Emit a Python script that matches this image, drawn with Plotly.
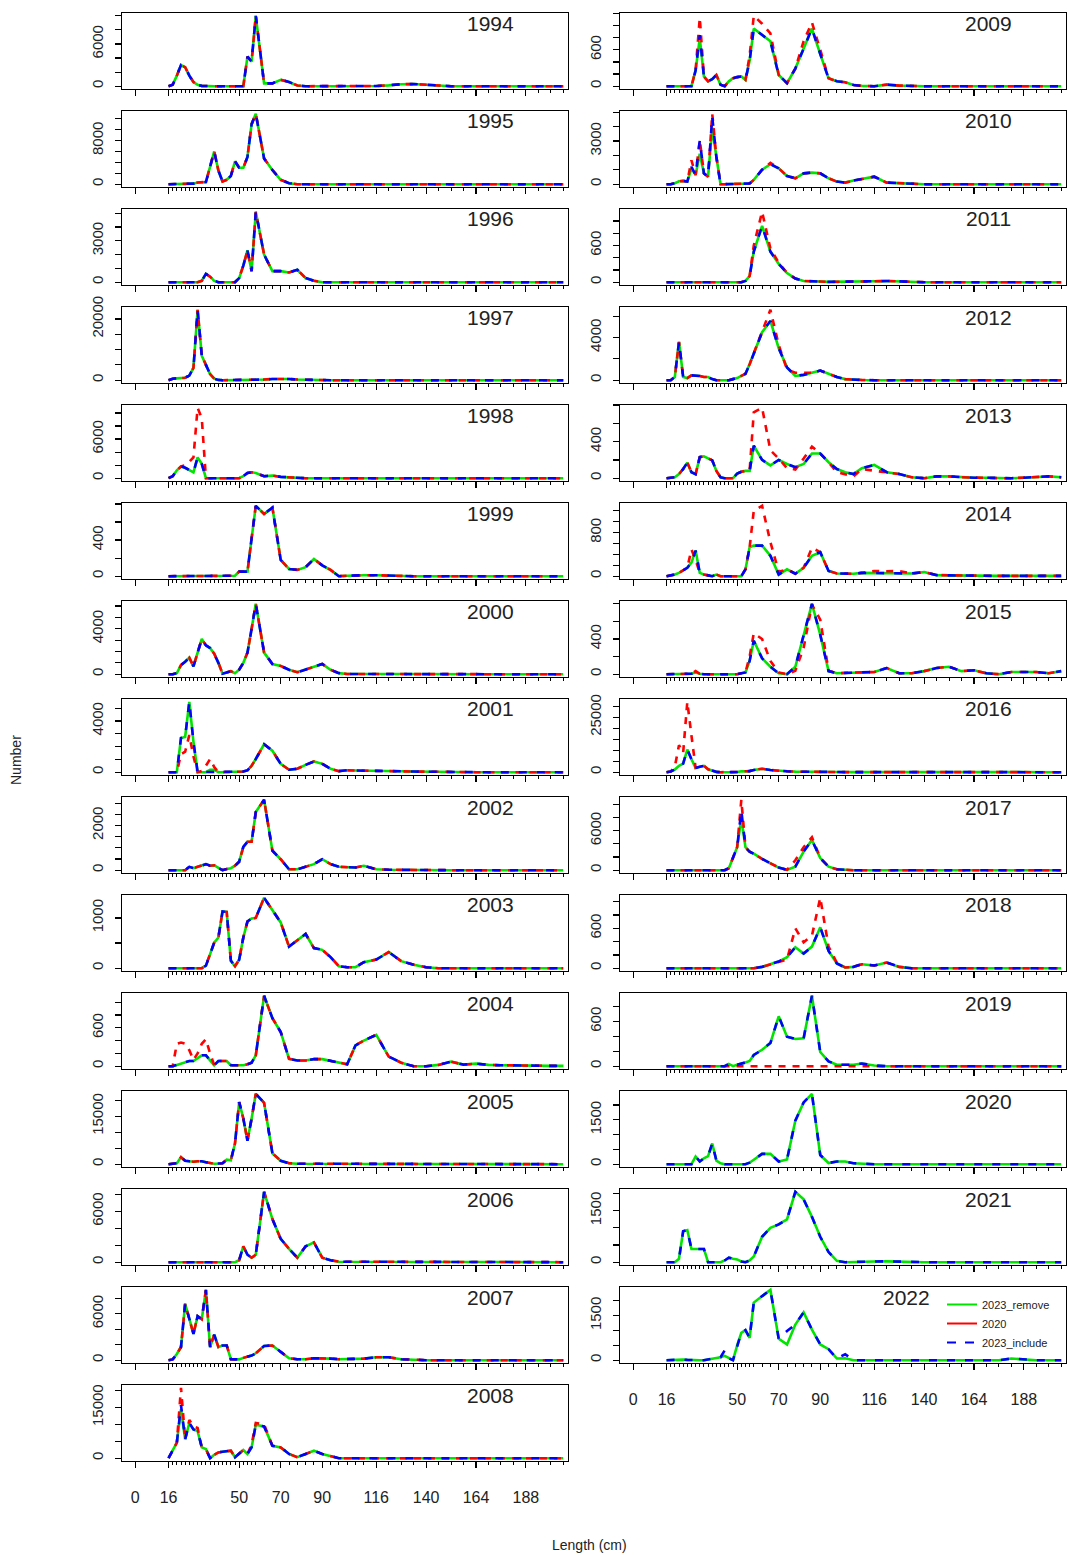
import plotly.graph_objects as go

# ---------------- data ----------------
bins = [16, 18, 20, 22, 24, 26, 28, 30, 32, 34, 36, 38, 40, 42, 44, 46, 48, 50, 52, 54, 56, 58,
        62, 66, 70, 74, 78, 82, 86, 90, 94, 98, 102, 106, 110,
        116, 122, 128, 134, 140, 146, 152, 158, 164, 170, 176, 182, 188, 194, 200, 206]

years = list(range(1994, 2023))

Z16 = [0, 0, 0, 0, 0, 0, 0, 0, 0, 0, 0, 0, 0, 0, 0, 0]

inc_1994 = [0, 200, 1500, 3000, 2700, 1500, 600, 200, 50, 0, 0, 0, 0, 0, 0, 0, 0, 0, 0, 4200, 3500, 10000,
            400, 400, 900, 600, 100, 0, 0, 0, 0, 0, 0, 0, 0,
            30, 120, 280, 300, 200, 40, 0, 0, 0, 0, 0, 0, 0, 0, 0, 0]
inc_1995 = [0, 0, 0, 0, 0, 50, 100, 300, 400, 400, 3200, 6000, 2500, 500, 800, 1500, 4200, 3000, 3000, 5000, 11000, 12900,
            4700, 2600, 800, 180, 0, 0, 0, 0, 0, 0, 0, 0, 0] + Z16
inc_1996 = [0, 0, 0, 0, 0, 0, 0, 0, 100, 600, 400, 100, 0, 0, 0, 0, 0, 300, 1200, 2300, 800, 5100,
            2000, 800, 800, 700, 900, 300, 100, 0, 0, 0, 0, 0, 0] + Z16
inc_1997 = [0, 500, 600, 600, 800, 1500, 4000, 23000, 8000, 5000, 2000, 500, 100, 0, 0, 0, 0, 0, 0, 0, 0, 0,
            200, 400, 500, 400, 200, 100, 0, 0, 0, 0, 0, 0, 0] + Z16
inc_1998 = [0, 300, 1200, 1800, 1600, 1300, 900, 3200, 2200, 0, 0, 0, 0, 0, 0, 0, 0, 0, 300, 800, 900, 800,
            300, 400, 200, 100, 0, 0, 0, 0, 0, 0, 0, 0, 0] + Z16
old_1998 = [0, 300, 1200, 1800, 2000, 2500, 3200, 10800, 9200, 0, 0, 0, 0, 0, 0, 0, 0, 0, 300, 800, 900, 800,
            300, 400, 200, 100, 0, 0, 0, 0, 0, 0, 0, 0, 0] + Z16
inc_1999 = [0, 0, 0, 0, 0, 0, 0, 0, 0, 0, 0, 0, 0, 0, 0, 0, 5, 50, 50, 50, 420, 780,
            690, 760, 180, 80, 70, 100, 190, 120, 70, 0, 5, 10, 10,
            10, 5, 0, 0, 0, 0, 0, 0, 0, 0, 0, 0, 0, 0, 0, 0]
inc_2000 = [0, 0, 100, 800, 1100, 1460, 690, 1800, 3100, 2540, 2300, 1800, 1000, 40, 150, 260, 90, 390, 1000, 1900, 4000, 6200,
            1900, 900, 730, 390, 170, 390, 650, 900, 390, 90, 20, 20, 30,
            30, 20, 10, 0, 0, 0, 0, 0, 0, 0, 0, 0, 0, 0, 0, 0]
inc_2001 = [0, 0, 0, 2670, 2750, 5500, 2370, 0, 0, 0, 50, 50, 0, 0, 0, 0, 0, 0, 50, 150, 500, 1030,
            2180, 1680, 650, 190, 270, 570, 840, 650, 270, 80, 150, 130, 110,
            100, 90, 70, 50, 30, 20, 0, 0, 0, 0, 0, 0, 0, 0, 0, 0]
old_2001 = [0, 0, 0, 1400, 1600, 2900, 1220, 0, 100, 500, 1030, 400, 0, 0, 0, 0, 0, 0, 50, 150, 500, 1030,
            2180, 1680, 650, 190, 270, 570, 840, 650, 270, 80, 150, 130, 110,
            100, 90, 70, 50, 30, 20, 0, 0, 0, 0, 0, 0, 0, 0, 0, 0]
rem_2001 = [0, 0, 0, 2670, 2750, 5500, 2370, 0, 0, 0, 190, 190, 0, 0, 0, 0, 0, 0, 50, 150, 500, 1030,
            2180, 1680, 650, 190, 270, 570, 840, 650, 270, 80, 150, 130, 110,
            100, 90, 70, 50, 30, 20, 0, 0, 0, 0, 0, 0, 0, 0, 0, 0]
inc_2002 = [0, 0, 0, 0, 0, 150, 90, 150, 200, 270, 200, 220, 100, 0, 50, 90, 200, 380, 1040, 1270, 1270, 2600,
            3150, 870, 490, 40, 40, 150, 270, 490, 270, 150, 150, 120, 200,
            40, 20, 10, 0, 0, 0, 0, 0, 0, 0, 0, 0, 0, 0, 0, 0]
inc_2003 = [0, 0, 0, 0, 0, 0, 0, 0, 0, 50, 300, 510, 610, 1130, 1120, 150, 40, 170, 610, 930, 990, 1000,
            1400, 1150, 910, 430, 560, 680, 400, 365, 220, 40, 20, 20, 120,
            170, 320, 140, 70, 20, 0, 0, 0, 0, 0, 0, 0, 0, 0, 0, 0]
inc_2004 = [0, 0, 20, 40, 60, 80, 80, 120, 170, 170, 90, 15, 80, 80, 80, 15, 15, 15, 15, 30, 55, 170,
            1100, 750, 535, 115, 90, 90, 110, 110, 80, 50, 30, 325, 400,
            490, 150, 55, 0, 0, 20, 70, 25, 40, 20, 15, 10, 10, 5, 5, 5]
old_2004 = [0, 0, 350, 370, 350, 250, 100, 200, 350, 420, 200, 15, 80, 80, 80, 15, 15, 15, 15, 30, 55, 170,
            1100, 750, 535, 115, 90, 90, 110, 110, 80, 50, 30, 325, 400,
            490, 150, 55, 0, 0, 20, 70, 25, 40, 20, 15, 10, 10, 5, 5, 5]
inc_2005 = [0, 100, 300, 2170, 1080, 900, 775, 900, 930, 620, 400, 155, 200, 310, 1400, 1240, 6500, 19400, 14300, 7300, 14300, 22000,
            19200, 3400, 1080, 300, 150, 150, 150, 150, 150, 150, 150, 150, 150,
            150, 100, 100, 100, 50, 0, 0, 0, 0, 0, 0, 0, 0, 0, 0, 0]
inc_2006 = [0, 0, 0, 0, 0, 0, 0, 0, 0, 0, 0, 0, 0, 0, 0, 0, 0, 230, 1870, 880, 530, 880,
            8300, 5090, 2750, 1580, 530, 1870, 2340, 530, 230, 60, 60, 80, 80,
            60, 60, 40, 40, 30, 20, 0, 0, 0, 0, 0, 0, 0, 0, 0, 0]
inc_2007 = [0, 100, 800, 1700, 7300, 5500, 3400, 5700, 5300, 9100, 1700, 3300, 1700, 1900, 1900, 130, 100, 100, 300, 440, 600, 890,
            1840, 1900, 1080, 250, 130, 130, 250, 250, 200, 130, 130, 130, 200,
            380, 380, 130, 50, 0, 0, 0, 0, 0, 0, 0, 0, 0, 0, 0, 0]
inc_2008 = [0, 2200, 4600, 15700, 5600, 10400, 8500, 8000, 3200, 2700, 0, 1000, 1700, 1900, 2000, 2200, 290, 1300, 2400, 1250, 3200, 9900,
            9400, 3650, 3200, 1250, 290, 1250, 2200, 1250, 580, 0, 0, 0, 0] + Z16
old_2008 = [0, 2200, 4600, 20800, 5600, 11300, 9400, 8900, 3200, 2700, 0, 1000, 1700, 1900, 2000, 2200, 290, 1300, 2400, 1250, 4000, 10400,
            10000, 3650, 3200, 1250, 290, 1250, 2200, 1250, 580, 0, 0, 0, 0] + Z16
rem_2008 = [0, 2200, 4600, 14500, 5600, 10400, 8500, 8000, 3200, 2700, 0, 1000, 1700, 1900, 2000, 2200, 290, 1300, 2400, 1250, 3200, 9900,
            9400, 3650, 3200, 1250, 290, 1250, 2200, 1250, 580, 0, 0, 0, 0] + Z16
inc_2009 = [0, 0, 0, 0, 0, 0, 0, 260, 840, 160, 80, 115, 185, 25, 0, 80, 130, 150, 160, 105, 420, 950,
            840, 740, 185, 50, 290, 630, 950, 530, 130, 80, 65, 20, 5,
            0, 25, 10, 0, 0, 0, 0, 0, 0, 0, 0, 0, 0, 0, 0, 0]
old_2009 = [0, 0, 0, 0, 0, 0, 0, 260, 1130, 160, 80, 115, 185, 25, 0, 80, 130, 150, 160, 105, 500, 1160,
            1030, 870, 185, 50, 290, 740, 1050, 600, 130, 80, 65, 20, 5,
            0, 25, 10, 0, 0, 0, 0, 0, 0, 0, 0, 0, 0, 0, 0, 0]
rem_2009 = [0, 0, 0, 0, 0, 0, 0, 260, 790, 160, 80, 115, 185, 25, 0, 80, 130, 150, 160, 105, 420, 950,
            840, 740, 185, 50, 290, 630, 950, 530, 130, 80, 65, 20, 5,
            0, 25, 10, 0, 0, 0, 0, 0, 0, 0, 0, 0, 0, 0, 0, 0]
inc_2010 = [0, 0, 70, 200, 230, 180, 1200, 640, 3020, 750, 520, 4700, 1890, 0, 0, 0, 0, 0, 0, 0, 50, 300,
            1000, 1390, 1100, 570, 410, 750, 800, 750, 410, 180, 110, 250, 350,
            520, 110, 70, 20, 0, 0, 0, 0, 0, 0, 0, 0, 0, 0, 0, 0]
old_2010 = [0, 0, 70, 200, 230, 180, 1660, 640, 3070, 750, 520, 4890, 1890, 0, 0, 0, 0, 0, 0, 0, 50, 300,
            1000, 1480, 1100, 570, 410, 750, 800, 750, 410, 180, 110, 250, 350,
            520, 110, 70, 20, 0, 0, 0, 0, 0, 0, 0, 0, 0, 0, 0, 0]
rem_2010 = [0, 0, 70, 200, 230, 180, 1100, 640, 2110, 750, 520, 3930, 1890, 0, 0, 0, 0, 0, 0, 0, 50, 300,
            1000, 1390, 1100, 570, 410, 750, 800, 750, 410, 180, 110, 250, 350,
            520, 110, 70, 20, 0, 0, 0, 0, 0, 0, 0, 0, 0, 0, 0, 0]
inc_2011 = [0, 0, 0, 0, 0, 0, 0, 0, 0, 0, 0, 0, 0, 0, 0, 0, 0, 0, 0, 20, 100, 500,
            920, 500, 300, 150, 60, 20, 10, 10, 5, 5, 5, 5, 10,
            15, 20, 10, 5, 0, 0, 0, 0, 0, 0, 0, 0, 0, 0, 0, 0]
old_2011 = [0, 0, 0, 0, 0, 0, 0, 0, 0, 0, 0, 0, 0, 0, 0, 0, 0, 0, 0, 20, 100, 600,
            1150, 550, 320, 150, 60, 20, 10, 10, 5, 5, 5, 5, 10,
            15, 20, 10, 5, 0, 0, 0, 0, 0, 0, 0, 0, 0, 0, 0, 0]
inc_2012 = [0, 0, 300, 3600, 300, 200, 450, 450, 400, 300, 300, 100, 0, 0, 0, 0, 100, 200, 400, 600, 1500, 2500,
            4500, 5560, 3000, 1200, 400, 500, 700, 900, 600, 300, 100, 50, 20] + Z16
old_2012 = [0, 0, 300, 3600, 300, 200, 450, 450, 400, 300, 300, 100, 0, 0, 0, 0, 100, 200, 400, 600, 1500, 2500,
            4500, 6600, 3300, 1000, 700, 700, 700, 900, 600, 300, 100, 50, 20] + Z16
inc_2013 = [0, 5, 10, 45, 100, 170, 65, 45, 230, 240, 220, 195, 80, 10, 0, 0, 0, 50, 70, 80, 80, 355,
            200, 140, 200, 155, 120, 155, 270, 270, 175, 100, 65, 45, 110,
            145, 65, 45, 10, 0, 20, 20, 10, 5, 5, 0, 0, 5, 10, 20, 10]
old_2013 = [0, 5, 10, 45, 100, 170, 65, 45, 230, 240, 220, 195, 80, 10, 0, 0, 0, 50, 70, 80, 80, 720,
            770, 305, 215, 110, 95, 215, 345, 270, 175, 65, 40, 20, 100,
            80, 65, 45, 10, 0, 20, 20, 10, 5, 5, 0, 0, 5, 10, 20, 10]
inc_2014 = [0, 10, 30, 60, 100, 155, 250, 470, 60, 30, 15, 0, 30, 0, 0, 0, 0, 0, 0, 125, 530, 560,
            560, 375, 30, 125, 45, 155, 375, 440, 95, 50, 45, 45, 60,
            60, 60, 50, 50, 75, 20, 15, 10, 10, 10, 5, 5, 5, 5, 5, 5]
old_2014 = [0, 10, 30, 60, 100, 155, 490, 300, 60, 30, 15, 0, 30, 0, 0, 0, 0, 0, 0, 125, 530, 1200,
            1290, 625, 80, 125, 45, 155, 520, 440, 95, 50, 45, 45, 60,
            95, 90, 95, 50, 75, 20, 15, 10, 10, 10, 5, 5, 5, 5, 5, 5]
inc_2015 = [0, 0, 0, 0, 0, 0, 5, 20, 5, 0, 0, 0, 0, 0, 0, 0, 0, 0, 10, 20, 150, 380,
            180, 85, 10, 0, 85, 450, 800, 450, 35, 10, 15, 20, 25,
            25, 70, 10, 10, 35, 70, 85, 35, 45, 10, 0, 25, 25, 25, 10, 35]
old_2015 = [0, 0, 0, 0, 0, 0, 5, 35, 5, 0, 0, 0, 0, 0, 0, 0, 0, 0, 10, 20, 200, 465,
            400, 150, 20, 0, 40, 300, 790, 620, 40, 10, 15, 20, 25,
            25, 70, 10, 10, 35, 70, 85, 35, 45, 10, 0, 25, 25, 25, 10, 35]
inc_2016 = [0, 300, 1200, 2900, 3900, 10300, 5900, 1950, 2500, 2900, 1300, 600, 150, 0, 0, 0, 0, 80, 390, 400, 500, 1000,
            1560, 1000, 600, 400, 250, 150, 150, 100, 80, 80, 40, 40, 40] + Z16
old_2016 = [0, 300, 2500, 12300, 8800, 32000, 16600, 1950, 2500, 2900, 1300, 600, 150, 0, 0, 0, 0, 80, 390, 400, 500, 1000,
            1560, 1000, 600, 400, 250, 150, 150, 100, 80, 80, 40, 40, 40] + Z16
inc_2017 = [0, 0, 0, 0, 0, 0, 0, 0, 0, 0, 0, 0, 0, 0, 0, 300, 1800, 3500, 9100, 3500, 2800, 2500,
            1710, 1050, 400, 60, 530, 2830, 4600, 1840, 530, 130, 30, 0, 0] + Z16
old_2017 = [0, 0, 0, 0, 0, 0, 0, 0, 0, 0, 0, 0, 0, 0, 0, 300, 1800, 3500, 10700, 3500, 2800, 2500,
            1710, 1050, 400, 60, 1500, 3490, 5000, 1840, 530, 130, 30, 0, 0] + Z16
rem_2017 = [0, 0, 0, 0, 0, 0, 0, 0, 0, 0, 0, 0, 0, 0, 0, 300, 1800, 3500, 7900, 3500, 2800, 2500,
            1710, 1050, 400, 60, 530, 2830, 4600, 1840, 530, 130, 30, 0, 0] + Z16
inc_2018 = [0, 0, 0, 0, 0, 0, 0, 0, 0, 0, 0, 0, 0, 0, 0, 0, 0, 0, 0, 0, 0, 0,
            20, 60, 100, 165, 315, 220, 325, 615, 260, 70, 10, 20, 60,
            40, 85, 20, 0, 0, 0, 0, 0, 0, 0, 0, 0, 0, 0, 0, 0]
old_2018 = [0, 0, 0, 0, 0, 0, 0, 0, 0, 0, 0, 0, 0, 0, 0, 0, 0, 0, 0, 0, 0, 0,
            20, 60, 100, 130, 600, 390, 490, 1060, 325, 80, 10, 20, 60,
            40, 85, 20, 0, 0, 0, 0, 0, 0, 0, 0, 0, 0, 0, 0, 0]
inc_2019 = [0, 0, 0, 0, 0, 0, 0, 0, 0, 0, 0, 0, 0, 0, 0, 30, 0, 20, 30, 50, 70, 150,
            220, 310, 670, 395, 365, 375, 945, 190, 65, 20, 20, 20, 35,
            10, 0, 0, 0, 0, 0, 0, 0, 0, 0, 0, 0, 0, 0, 0, 0]
old_2019 = [0, 0, 0, 0, 0, 0, 0, 0, 0, 0, 0, 0, 0, 0, 0, 0, 0, 0, 0, 0, 0, 0,
            0, 0, 0, 0, 0, 0, 0, 0, 0, 0, 0, 0, 0] + Z16
inc_2020 = [0, 0, 0, 0, 0, 0, 0, 260, 90, 200, 270, 700, 120, 30, 0, 0, 0, 0, 0, 0, 50, 160,
            350, 350, 90, 160, 1470, 2090, 2380, 310, 40, 90, 90, 30, 10] + Z16
inc_2021 = [0, 0, 0, 100, 900, 935, 385, 385, 385, 385, 0, 0, 0, 0, 50, 130, 100, 80, 20, 0, 50, 165,
            740, 1000, 1100, 1250, 2050, 1830, 1320, 740, 295, 40, 0, 0, 10,
            20, 25, 10, 0, 0, 0, 0, 0, 0, 0, 0, 0, 0, 0, 0, 0]
rem_2022 = [0, 10, 20, 30, 20, 10, 0, 0, 0, 0, 20, 50, 65, 100, 145, 60, 0, 500, 920, 1010, 755, 1940,
            2170, 2370, 720, 530, 1200, 1610, 1030, 530, 370, 55, 65, 0, 0,
            0, 0, 0, 0, 0, 0, 0, 0, 0, 0, 0, 55, 20, 0, 0, 0]
inc_2022 = [0, 10, 20, 30, 20, 10, 0, 0, 0, 0, 20, 50, 65, 100, 330, 60, 0, 500, 920, 1010, 755, 1940,
            2170, 2370, 720, 980, 1200, 1610, 1030, 530, 370, 55, 200, 0, 0,
            0, 0, 0, 0, 0, 0, 0, 0, 0, 0, 0, 55, 20, 0, 0, 0]

inc = [inc_1994, inc_1995, inc_1996, inc_1997, inc_1998, inc_1999, inc_2000, inc_2001, inc_2002, inc_2003,
       inc_2004, inc_2005, inc_2006, inc_2007, inc_2008, inc_2009, inc_2010, inc_2011, inc_2012, inc_2013,
       inc_2014, inc_2015, inc_2016, inc_2017, inc_2018, inc_2019, inc_2020, inc_2021, inc_2022]
rem = [inc_1994, inc_1995, inc_1996, inc_1997, inc_1998, inc_1999, inc_2000, rem_2001, inc_2002, inc_2003,
       inc_2004, inc_2005, inc_2006, inc_2007, rem_2008, rem_2009, rem_2010, inc_2011, inc_2012, inc_2013,
       inc_2014, inc_2015, inc_2016, rem_2017, inc_2018, inc_2019, inc_2020, inc_2021, rem_2022]
old = [inc_1994, inc_1995, inc_1996, inc_1997, old_1998, inc_1999, inc_2000, old_2001, inc_2002, inc_2003,
       old_2004, inc_2005, inc_2006, inc_2007, old_2008, old_2009, old_2010, old_2011, old_2012, old_2013,
       old_2014, old_2015, old_2016, old_2017, old_2018, old_2019, None, None, None]

ystep = [2000, 2000, 1000, 5000, 2000, 200, 1000, 1000, 500, 500, 200, 5000, 2000, 2000, 5000,
         200, 1000, 200, 2000, 200, 200, 200, 5000, 2000, 200, 200, 500, 500, 500]
ylab = [6000, 8000, 3000, 20000, 6000, 400, 4000, 4000, 2000, 1000, 600, 15000, 6000, 6000, 15000,
        600, 3000, 600, 4000, 400, 800, 400, 25000, 6000, 600, 600, 1500, 1500, 1500]

x_major = [0, 16, 30, 50, 70, 90, 116, 140, 164, 188, 206]
x_major_text = ["0", "16", "", "50", "70", "90", "116", "140", "164", "188", ""]

series_names = ["2023_remove", "2020", "2023_include"]
series_colors = ["#00e400", "#ff0000", "#0000ff"]

# ---------------- figure ----------------
W, H = 1068, 1555
FONT = "Liberation Sans, Arial, sans-serif"
fig = go.Figure()
layout = dict(width=W, height=H, margin=dict(l=0, r=0, t=0, b=0, pad=0),
              paper_bgcolor="white", plot_bgcolor="white", showlegend=True,
              font=dict(family=FONT, color="#222"))
annotations = []

for i, yr in enumerate(years):
    for arr in (inc[i], rem[i], old[i]):
        if arr is not None:
            assert len(arr) == len(bins), (yr, len(arr))
    col = 0 if i < 15 else 1
    row = i if i < 15 else i - 15
    top = 13 + 98 * row
    bot = 89 + 98 * row
    x0 = 122 if col == 0 else 620
    x1 = 568 if col == 0 else 1066
    n = i + 1
    xn = "x" if n == 1 else f"x{n}"
    yn = "y" if n == 1 else f"y{n}"
    xk = "xaxis" if n == 1 else f"xaxis{n}"
    yk = "yaxis" if n == 1 else f"yaxis{n}"

    curves = [(rem[i], series_colors[0], "solid"),
              (old[i], series_colors[1], "7px,7px"),
              (inc[i], series_colors[2], "8px,10px")]
    M = 0
    for data, c, d in curves:
        if data is None:
            continue
        M = max(M, max(data))
        fig.add_trace(go.Scatter(x=bins, y=data, mode="lines", xaxis=xn, yaxis=yn,
                                 line=dict(color=c, width=2.6, dash=d),
                                 showlegend=False, hoverinfo="skip"))

    step = ystep[i]
    tv = []
    v = 0
    while v <= 1.04 * M + 1e-9:
        tv.append(v)
        v += step
    tt = [str(t) if t in (0, ylab[i]) else "" for t in tv]

    bottom = (i == 14 or i == 28)
    layout[xk] = dict(domain=[x0 / W, x1 / W], anchor=yn, range=[-6.4, 208.3],
                      automargin=False,
                      showgrid=False, zeroline=False, showline=True, mirror=True,
                      linecolor="black", linewidth=1.4,
                      tickmode="array", tickvals=x_major, ticktext=x_major_text,
                      ticks="outside", ticklen=6, tickwidth=1.2, tickcolor="black",
                      showticklabels=bottom, ticklabelstandoff=15,
                      tickfont=dict(size=16, color="#222", family=FONT),
                      minor=dict(tickmode="array", tickvals=bins, ticks="outside",
                                 ticklen=3, tickwidth=1, tickcolor="black"))
    layout[yk] = dict(domain=[1 - bot / H, 1 - top / H], anchor=xn,
                      range=[-0.04 * M, 1.04 * M], automargin=False,
                      showgrid=False, zeroline=False, showline=True, mirror=True,
                      linecolor="black", linewidth=1.4,
                      tickmode="array", tickvals=tv, ticktext=tt,
                      ticks="outside", ticklen=6, tickwidth=1.2, tickcolor="black",
                      tickangle=-90, ticklabelstandoff=6,
                      tickfont=dict(size=15, color="#222", family=FONT))
    lab_x = (x1 - 78) if yr != 2022 else 906
    annotations.append(dict(text=str(yr), xref="paper", yref="paper",
                            x=lab_x / W, y=1 - (top + 10) / H,
                            xanchor="center", yanchor="middle", showarrow=False,
                            font=dict(size=21, color="#222", family=FONT)))

# legend entries (drawn in the 2022 panel)
leg_dash = ["solid", "solid", "dash"]
for name, c, d in zip(series_names, series_colors, leg_dash):
    fig.add_trace(go.Scatter(x=[None], y=[None], mode="lines", name=name,
                             xaxis="x29", yaxis="y29",
                             line=dict(color=c, width=2, dash=d)))

layout["legend"] = dict(x=942 / W, y=1 - 1290 / H, xanchor="left", yanchor="top",
                        bgcolor="rgba(0,0,0,0)", borderwidth=0,
                        font=dict(size=11, color="#222", family=FONT),
                        tracegroupgap=0, itemwidth=30)

annotations.append(dict(text="Number", xref="paper", yref="paper", x=16 / W, y=1 - 760 / H,
                        textangle=-90, showarrow=False, xanchor="center", yanchor="middle",
                        font=dict(size=14, color="#222", family=FONT)))
annotations.append(dict(text="Length (cm)", xref="paper", yref="paper", x=589 / W, y=1 - 1545 / H,
                        showarrow=False, xanchor="center", yanchor="middle",
                        font=dict(size=14, color="#222", family=FONT)))
layout["annotations"] = annotations

fig.update_layout(**layout)
fig.write_html("out.html", config={"displayModeBar": False, "staticPlot": True},
               post_script="document.body.style.margin='0px';document.body.style.overflow='hidden';")
